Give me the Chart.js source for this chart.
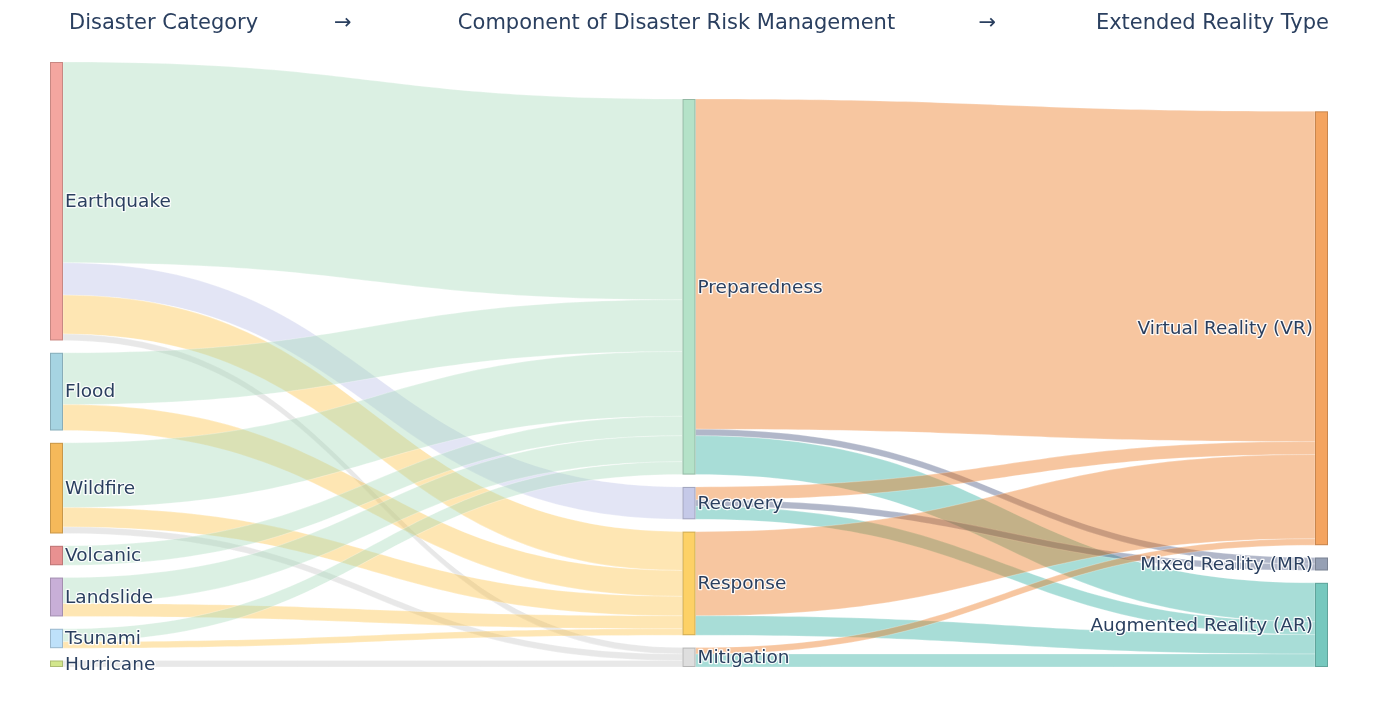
<!DOCTYPE html>
<html><head><meta charset="utf-8">
<script src="https://cdn.jsdelivr.net/npm/chart.js@4"></script>
<style>html,body{margin:0;padding:0;background:#fff;overflow:hidden}</style>
</head><body>
<canvas id="c" width="1379" height="717"></canvas>
<script>
// ---------- DATA ----------
const nodeLabels = ['Earthquake','Flood','Wildfire','Volcanic','Landslide','Tsunami','Hurricane',
  'Preparedness','Recovery','Response','Mitigation',
  'Virtual Reality (VR)','Mixed Reality (MR)','Augmented Reality (AR)'];
const nodeColumns = [0,0,0,0,0,0,0, 1,1,1,1, 2,2,2];
const nodeColors = ['#f4a6a0','#a6d4e2','#f5b95a','#e89191','#c8afd7','#bee1fa','#d2e68c',
  '#b4e2c8','#c5c9e8','#fdd166','#dedede','#f4a460','#96a0b4','#76c8be'];
const linkSources = [0,0,0,0, 1,1, 2,2,2, 3, 4,4, 5,5, 6, 7,7,7, 8,8,8, 9,9, 10,10];
const linkTargets = [7,8,9,10, 7,9, 7,9,10, 7, 7,9, 7,9, 10, 11,12,13, 11,12,13, 11,13, 11,13];
const linkValues  = [31,5,6,1, 8,4, 10,3,1, 3, 4,2, 2,1, 1, 51,1,6, 2,1,2, 13,3, 1,2];
const linkColorByTarget = {7:'rgba(165,217,185,0.4)',8:'rgba(185,190,230,0.4)',9:'rgba(252,192,65,0.4)',
  10:'rgba(197,197,197,0.4)',11:'rgba(235,113,18,0.4)',12:'rgba(60,75,120,0.4)',13:'rgba(38,170,155,0.4)'};
const columnHeaders = ['Disaster Category','Component of Disaster Risk Management','Extended Reality Type'];
const headerArrow = '→';

// ---------- LAYOUT (styling constants) ----------
const NODE_W = 13;       // px
const GAP = 1.905;       // gap between nodes, in value units
const TEXT = '#2a3f5f';

const total = linkValues.reduce((a,v,i)=> nodeColumns[linkSources[i]]===0 ? a+v : a, 0);
const nodeVal = nodeLabels.map((_,n)=>{
  let inV=0,outV=0;
  linkValues.forEach((v,i)=>{ if(linkTargets[i]===n) inV+=v; if(linkSources[i]===n) outV+=v; });
  return Math.max(inV,outV);
});
const colCount = [0,1,2].map(c=>nodeColumns.filter(x=>x===c).length);
const maxNodes = Math.max(...colCount);
const yMax = total + (maxNodes-1)*GAP;
const nodeY0 = [];
[0,1,2].forEach(c=>{
  const ids = nodeLabels.map((_,i)=>i).filter(i=>nodeColumns[i]===c);
  const sum = ids.reduce((a,i)=>a+nodeVal[i],0);
  let y = yMax - (sum + (ids.length-1)*GAP);
  ids.forEach(i=>{ nodeY0[i]=y; y+=nodeVal[i]+GAP; });
});
const nodeCenter = i => nodeY0[i] + nodeVal[i]/2;

const sankeyPlugin = {
  id:'sankey',
  beforeDatasetsDraw(chart){
    const ctx = chart.ctx, xs = chart.scales.x, ys = chart.scales.y;
    const links = linkValues.map((v,i)=>({s:linkSources[i],t:linkTargets[i],v,i}));
    nodeLabels.forEach((_,n)=>{
      let o = nodeY0[n];
      links.filter(l=>l.s===n).sort((a,b)=>nodeCenter(a.t)-nodeCenter(b.t)).forEach(l=>{ l.sy=o; o+=l.v; });
      let p = nodeY0[n];
      links.filter(l=>l.t===n).sort((a,b)=>nodeCenter(a.s)-nodeCenter(b.s)).forEach(l=>{ l.ty=p; p+=l.v; });
    });
    ctx.save();
    links.forEach(l=>{
      const x0 = xs.getPixelForValue(nodeColumns[l.s]) + NODE_W;
      const x1 = xs.getPixelForValue(nodeColumns[l.t]);
      const xm = (x0+x1)/2;
      const y0t = ys.getPixelForValue(l.sy), y0b = ys.getPixelForValue(l.sy+l.v);
      const y1t = ys.getPixelForValue(l.ty), y1b = ys.getPixelForValue(l.ty+l.v);
      ctx.beginPath();
      ctx.moveTo(x0,y0t);
      ctx.bezierCurveTo(xm,y0t,xm,y1t,x1,y1t);
      ctx.lineTo(x1,y1b);
      ctx.bezierCurveTo(xm,y1b,xm,y0b,x0,y0b);
      ctx.closePath();
      ctx.fillStyle = linkColorByTarget[l.t];
      ctx.fill();
      ctx.strokeStyle = 'rgba(255,255,255,0.5)';
      ctx.lineWidth = 0.5;
      ctx.stroke();
    });
    nodeLabels.forEach((lab,n)=>{
      const x = xs.getPixelForValue(nodeColumns[n]);
      const yt = ys.getPixelForValue(nodeY0[n]), yb = ys.getPixelForValue(nodeY0[n]+nodeVal[n]);
      ctx.fillStyle = nodeColors[n];
      ctx.fillRect(x, yt, NODE_W, yb-yt);
      ctx.strokeStyle = 'rgba(0,0,0,0.18)';
      ctx.lineWidth = 1;
      ctx.strokeRect(x+0.5, yt+0.5, NODE_W-1, yb-yt-1);
    });
    ctx.font = '18.5px "DejaVu Sans", Verdana, sans-serif';
    ctx.textBaseline = 'middle';
    ctx.lineJoin = 'round';
    nodeLabels.forEach((lab,n)=>{
      const c = nodeColumns[n];
      const x = xs.getPixelForValue(c);
      const y = ys.getPixelForValue(nodeCenter(n)) + 1;
      let tx, align;
      if(c===2){ tx = x-2; align='right'; } else { tx = x+NODE_W+2; align='left'; }
      ctx.textAlign = align;
      ctx.strokeStyle = 'rgba(255,255,255,0.9)';
      ctx.lineWidth = 2.5;
      ctx.strokeText(lab, tx, y);
      ctx.fillStyle = TEXT;
      ctx.fillText(lab, tx, y);
    });
    ctx.font = '21px "DejaVu Sans", Verdana, sans-serif';
    ctx.fillStyle = TEXT;
    ctx.textBaseline = 'middle';
    const hy = 23.5;
    ctx.textAlign='left';  ctx.fillText(columnHeaders[0], xs.getPixelForValue(0)+19, hy);
    ctx.textAlign='center';ctx.fillText(columnHeaders[1], xs.getPixelForValue(1)-6, hy);
    ctx.textAlign='right'; ctx.fillText(columnHeaders[2], xs.getPixelForValue(2)+NODE_W+1, hy);
    ctx.textAlign='center';
    ctx.fillText(headerArrow, xs.getPixelForValue(0.463), hy);
    ctx.fillText(headerArrow, xs.getPixelForValue(1.482), hy);
    ctx.restore();
  }
};

new Chart(document.getElementById('c'), {
  type:'scatter',
  data:{datasets:[{data:nodeLabels.map((_,i)=>({x:nodeColumns[i], y:nodeCenter(i)})), pointRadius:0, pointHoverRadius:0}]},
  options:{
    responsive:false, animation:false,
    layout:{padding:{top:62,bottom:50,left:50,right:64}},
    plugins:{legend:{display:false}, tooltip:{enabled:false}},
    events:[],
    scales:{
      x:{type:'linear', min:0, max:2, display:false},
      y:{type:'linear', min:0, max:yMax, reverse:true, display:false}
    }
  },
  plugins:[sankeyPlugin]
});
</script>
</body></html>
